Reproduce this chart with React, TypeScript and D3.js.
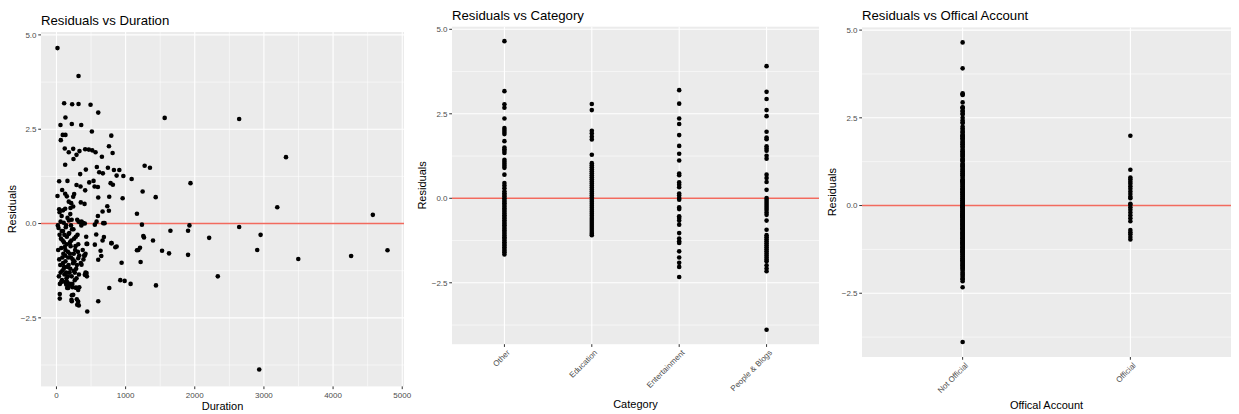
import React from 'react';
import * as d3 from 'd3';

// ---------- DATA ----------
// Panel 1: [duration, residual]
const durationResiduals: [number, number][] = [
  [15, 4.65], [319, 3.91], [111, 3.19], [227, 3.16], [319, 3.17], [493, 3.15], [604, 2.94],
  [130, 2.81], [1565, 2.8], [2642, 2.77], [58, 2.61], [222, 2.64], [358, 2.61], [512, 2.44],
  [91, 2.35], [130, 2.35], [63, 2.21], [793, 2.33], [759, 2.05], [120, 1.99], [242, 1.98],
  [178, 1.89], [290, 1.82], [246, 1.71], [333, 1.92], [415, 1.97], [468, 1.96], [517, 1.94],
  [565, 1.89], [812, 1.87], [657, 1.77], [3319, 1.76], [126, 1.56], [1275, 1.53], [1352, 1.48],
  [584, 1.5], [744, 1.48], [425, 1.43], [618, 1.36], [671, 1.33], [831, 1.42], [909, 1.42],
  [870, 1.27], [967, 1.26], [343, 1.31], [39, 1.12], [159, 1.13], [1087, 1.18], [536, 1.13],
  [474, 1.09], [783, 1.07], [816, 1.03], [1938, 1.07], [290, 1.02], [348, 0.98], [551, 0.98],
  [599, 0.97], [82, 0.89], [415, 0.88], [1246, 0.85], [126, 0.79], [256, 0.78], [150, 0.72],
  [15, 0.73], [1435, 0.7], [604, 0.69], [763, 0.71], [957, 0.67], [242, 0.71], [3193, 0.43],
  [178, 0.58], [213, 0.54], [352, 0.56], [406, 0.52], [735, 0.46], [1164, 0.26], [4575, 0.23],
  [667, 0.32], [758, 0.34], [599, 0.2], [39, 0.38], [126, 0.39], [203, 0.41], [242, 0.45],
  [696, 0.01], [1236, -0.03], [1923, -0.05], [2642, -0.09], [1903, -0.19], [1648, -0.19],
  [2952, -0.3], [1256, -0.33], [1266, -0.37], [2208, -0.38], [1396, -0.45], [793, -0.52],
  [851, -0.63], [445, -0.54], [555, -0.56], [1208, -0.64], [1164, -0.71], [1527, -0.72],
  [2903, -0.7], [4787, -0.71], [1628, -0.79], [1903, -0.83], [4261, -0.86], [3497, -0.94],
  [942, -1.04], [1217, -1.02], [604, -0.96], [648, -0.86], [638, -0.72], [667, -0.45],
  [686, -0.36], [575, -0.29], [923, -1.5], [986, -1.52], [1072, -1.6], [1439, -1.64],
  [764, -1.71], [2333, -1.4], [604, -2.06], [445, -2.33], [2932, -3.87], [323, -2.17],
  [294, -2.01], [222, -2.06], [222, -1.9], [48, -1.99], [48, -1.87], [310, -1.71], [330, -1.69],
  [232, -1.69], [155, -1.71], [140, -1.6], [190, -1.6], [580, 0.05], [555, -0.03], [676, 0.01],
  [362, 0.05], [387, 0.01], [435, -0.54], [797, -0.52], [870, -0.61], [1184, -0.7],
  [435, -1.31], [410, -1.36], [352, -1.05], [362, -1.09], [410, -0.85], [420, -0.8], [314, -0.92],
  [290, -1.71], [314, -1.76], [242, -1.89], [217, -2.02], [314, -2.07], [300, -2.15],
  [145, -1.62], [170, -1.71],
  [30, -0.12], [45, -0.3], [60, 0.05], [75, -0.2], [90, -0.45], [105, 0.02], [120, -0.62],
  [135, -0.1], [150, -0.35], [165, -0.75], [180, 0.08], [195, -0.5], [210, -0.9], [225, -0.15],
  [240, -1.05], [255, -0.4], [270, -0.7], [285, -1.2], [300, 0.1], [315, -0.55], [330, -0.85],
  [345, 0.03], [40, -0.95], [55, -1.1], [70, -0.65], [85, -1.25], [100, -0.8], [115, -1.35],
  [130, -1.0], [145, -1.45], [160, -1.15], [175, -0.28], [190, -1.3], [205, -0.6], [220, -1.4],
  [235, -0.95], [250, -1.25], [265, -1.5], [280, -0.35], [295, -1.1], [310, -0.75], [325, -1.35],
  [35, -1.4], [50, -1.6], [65, -0.4], [80, -1.5], [95, -0.2], [110, -1.15], [125, -0.85],
  [140, -0.05], [155, -1.55], [170, -0.9], [185, -0.25], [200, -1.2], [215, -0.45], [230, -1.6],
  [245, -0.15], [260, -1.0], [275, -0.6], [290, -1.45], [305, -0.3], [320, 0.05], [20, -0.05],
  [25, -0.7], [45, 0.3], [75, 0.2], [95, 0.35], [110, -0.5], [125, -1.55], [140, -1.3],
  [160, 0.15], [180, -1.65], [200, 0.25], [220, 0.1], [250, -0.8], [280, -1.7], [360, -0.05],
  [380, -0.7], [400, -0.85], [420, -1.3], [440, -1.4], [390, -0.95], [375, 0.02], [410, 0.0],
  [430, -0.35], [85, -0.9], [105, -1.2], [150, -0.55], [195, -0.8], [60, -1.3], [70, -1.55],
  [115, -0.3], [165, -1.4], [210, -0.05], [265, -1.3], [95, -1.05], [130, -0.7], [175, -1.1]
];
const durationTicks = [0, 1000, 2000, 3000, 4000, 5000];
const durationMinor = [500, 1500, 2500, 3500, 4500];

// Panel 2: residuals per category
const categories = ['Other', 'Education', 'Entertainment', 'People & Blogs'];
const otherResiduals = [
  4.65, 3.17, 2.78, 2.68, 2.36, 2.08, 2.02, 1.96, 1.9, 1.69, 1.5, 1.45, 1.4, 1.34, 1.14, 1.08,
  1.02, 0.96, 0.9, 0.7, 0.45, 0.38, 0.3, 0.21, 0.15, 0.1, 0.05, 0.0, -0.05, -0.1, -0.15, -0.2,
  -0.25, -0.3, -0.35, -0.4, -0.45, -0.5, -0.55, -0.6, -0.65, -0.7, -0.75, -0.8, -0.85, -0.9,
  -0.95, -1.0, -1.05, -1.1, -1.15, -1.2, -1.25, -1.3, -1.35, -1.4, -1.45, -1.5, -1.55, -1.6, -1.66
];
const educationResiduals = [
  2.79, 2.61, 2.0, 1.92, 1.82, 1.74, 1.29, 1.04, 0.98, 0.92, 0.86, 0.8, 0.74, 0.68, 0.62, 0.56,
  0.5, 0.44, 0.38, 0.32, 0.26, 0.2, 0.14, 0.08, 0.02, -0.04, -0.1, -0.16, -0.22, -0.28, -0.34,
  -0.4, -0.46, -0.52, -0.58, -0.64, -0.7, -0.76, -0.82, -0.88, -0.94, -1.0, -1.05, -1.09
];
const entertainmentResiduals = [
  3.2, 2.8, 2.36, 2.2, 1.87, 1.55, 1.32, 1.12, 0.73, 0.68, 0.47, 0.4, 0.33, 0.14, 0.08, 0.01,
  -0.04, -0.27, -0.32, -0.53, -0.58, -0.66, -0.78, -1.03, -1.19, -1.27, -1.32, -1.57, -1.75,
  -1.91, -2.03, -2.33
];
const peopleBlogsResiduals = [
  3.91, 3.15, 2.94, 2.61, 2.43, 1.97, 1.8, 1.75, 1.54, 1.47, 1.41, 1.26, 1.17, 0.7, 0.6, 0.48,
  0.25, 0.01, -0.05, -0.11, -0.17, -0.23, -0.29, -0.35, -0.42, -0.49, -0.66, -0.93, -1.09,
  -1.15, -1.21, -1.27, -1.33, -1.39, -1.45, -1.51, -1.57, -1.63, -1.69, -1.75, -1.81, -1.86,
  -1.98, -2.08, -2.16, -3.89
];

// Panel 3: residuals by official account
const officialLevels = ['Not Official', 'Official'];
const officialResiduals = [
  1.99, 1.02, 0.8, 0.75, 0.68, 0.62, 0.55, 0.48, 0.4, 0.33, 0.25, 0.21, 0.05, 0.02, -0.05,
  -0.12, -0.2, -0.28, -0.36, -0.45, -0.7, -0.76, -0.82, -0.9, -0.97
];
const notOfficialResiduals = [
  ...otherResiduals, ...educationResiduals, ...entertainmentResiduals, ...peopleBlogsResiduals,
  2.5, 2.7, 2.25, 2.15, 2.1, 1.6, 1.65, 1.2, 0.85, 0.55, 0.65, -1.7, -1.8, -1.95, -2.1
];

const residualTicks = [-2.5, 0, 2.5, 5];
const residualMinor = [-3.75, -1.25, 1.25, 3.75];

// ---------- STYLE ----------
const FONT = '"Liberation Sans", Arial, Helvetica, sans-serif';
const PANEL_BG = '#EBEBEB';
const TICK_TEXT = '#4D4D4D';
const TICK_LINE = '#333333';
const HLINE = '#F26A5E';
const R = 2.3;

const allRes = [
  ...durationResiduals.map((d) => d[1]),
  ...otherResiduals, ...educationResiduals, ...entertainmentResiduals, ...peopleBlogsResiduals,
  ...officialResiduals,
];
const yExt = d3.extent(allRes) as [number, number];
const yPad = (yExt[1] - yExt[0]) * 0.05;
const yDomain: [number, number] = [yExt[0] - yPad, yExt[1] + yPad];

const fmt = d3.format('.1f');

type Box = { left: number; right: number; top: number; bottom: number };

function YAxisAndGrid({ box, y }: { box: Box; y: d3.ScaleLinear<number, number> }) {
  return (
    <g>
      {residualMinor.map((t) => (
        <line key={'ym' + t} x1={box.left} x2={box.right} y1={y(t)} y2={y(t)} stroke="#fff" strokeWidth={0.55} />
      ))}
      {residualTicks.map((t) => (
        <line key={'yM' + t} x1={box.left} x2={box.right} y1={y(t)} y2={y(t)} stroke="#fff" strokeWidth={1.1} />
      ))}
    </g>
  );
}

function YTicks({ box, y }: { box: Box; y: d3.ScaleLinear<number, number> }) {
  return (
    <g>
      {residualTicks.map((t) => (
        <g key={'yt' + t}>
          <line x1={box.left - 2.75} x2={box.left} y1={y(t)} y2={y(t)} stroke={TICK_LINE} strokeWidth={1} />
          <text x={box.left - 4.5} y={y(t)} dy="0.35em" textAnchor="end" fontSize={8} fill={TICK_TEXT} fontFamily={FONT}>
            {fmt(t)}
          </text>
        </g>
      ))}
    </g>
  );
}

function ZeroLine({ box, y }: { box: Box; y: d3.ScaleLinear<number, number> }) {
  return <line x1={box.left} x2={box.right} y1={y(0)} y2={y(0)} stroke={HLINE} strokeWidth={1.4} />;
}

function Titles({ box, title, titleY, xLabel, xLabelY, yLabelX }: {
  box: Box; title: string; titleY: number; xLabel: string; xLabelY: number; yLabelX: number;
}) {
  const cy = (box.top + box.bottom) / 2;
  return (
    <g fontFamily={FONT}>
      <text x={box.left} y={titleY} fontSize={13.2} fill="#000">{title}</text>
      <text x={(box.left + box.right) / 2} y={xLabelY} fontSize={11} textAnchor="middle" fill="#000">{xLabel}</text>
      <text transform={`translate(${yLabelX},${cy}) rotate(-90)`} dy="0.35em" fontSize={11} textAnchor="middle" fill="#000">Residuals</text>
    </g>
  );
}

function DurationPanel() {
  const box: Box = { left: 41, right: 404, top: 32, bottom: 386.4 };
  const xe = d3.extent(durationResiduals, (d) => d[0]) as [number, number];
  const xp = (xe[1] - xe[0]) * 0.05;
  const x = d3.scaleLinear().domain([xe[0] - xp, xe[1] + xp]).range([box.left, box.right]);
  const y = d3.scaleLinear().domain(yDomain).range([box.bottom, box.top]);
  return (
    <g>
      <rect x={box.left} y={box.top} width={box.right - box.left} height={box.bottom - box.top} fill={PANEL_BG} />
      {durationMinor.map((t) => (
        <line key={'xm' + t} x1={x(t)} x2={x(t)} y1={box.top} y2={box.bottom} stroke="#fff" strokeWidth={0.55} />
      ))}
      <YAxisAndGrid box={box} y={y} />
      {durationTicks.map((t) => (
        <line key={'xM' + t} x1={x(t)} x2={x(t)} y1={box.top} y2={box.bottom} stroke="#fff" strokeWidth={1.1} />
      ))}
      <ZeroLine box={box} y={y} />
      {durationResiduals.map((d, i) => (
        <circle key={i} cx={x(d[0])} cy={y(d[1])} r={R} fill="#000" />
      ))}
      <YTicks box={box} y={y} />
      {durationTicks.map((t) => (
        <g key={'xt' + t}>
          <line x1={x(t)} x2={x(t)} y1={box.bottom} y2={box.bottom + 2.75} stroke={TICK_LINE} strokeWidth={1} />
          <text x={x(t)} y={box.bottom + 11.5} textAnchor="middle" fontSize={8} fill={TICK_TEXT} fontFamily={FONT}>{t}</text>
        </g>
      ))}
      <Titles box={box} title="Residuals vs Duration" titleY={24.5} xLabel="Duration" xLabelY={410} yLabelX={12} />
    </g>
  );
}

function CategoricalPanel({ box, levels, groups, title, titleY, xLabel, xLabelY, yLabelX }: {
  box: Box; levels: string[]; groups: number[][]; title: string; titleY: number; xLabel: string; xLabelY: number; yLabelX: number;
}) {
  const n = levels.length;
  const xi = d3.scaleLinear().domain([1 - 0.6, n + 0.6]).range([box.left, box.right]);
  const x = (lvl: string) => xi(levels.indexOf(lvl) + 1);
  const y = d3.scaleLinear().domain(yDomain).range([box.bottom, box.top]);
  return (
    <g>
      <rect x={box.left} y={box.top} width={box.right - box.left} height={box.bottom - box.top} fill={PANEL_BG} />
      <YAxisAndGrid box={box} y={y} />
      {levels.map((l) => (
        <line key={'xg' + l} x1={x(l)} x2={x(l)} y1={box.top} y2={box.bottom} stroke="#fff" strokeWidth={1.1} />
      ))}
      <ZeroLine box={box} y={y} />
      {levels.map((l, gi) =>
        groups[gi].map((v, i) => <circle key={l + i} cx={x(l)} cy={y(v)} r={R} fill="#000" />)
      )}
      <YTicks box={box} y={y} />
      {levels.map((l) => (
        <g key={'xt' + l}>
          <line x1={x(l)} x2={x(l)} y1={box.bottom} y2={box.bottom + 2.75} stroke={TICK_LINE} strokeWidth={1} />
          <text
            transform={`translate(${x(l) + 2},${box.bottom + 5}) rotate(-45)`}
            dy="0.7em"
            textAnchor="end"
            fontSize={8}
            fill={TICK_TEXT}
            fontFamily={FONT}
          >
            {l}
          </text>
        </g>
      ))}
      <Titles box={box} title={title} titleY={titleY} xLabel={xLabel} xLabelY={xLabelY} yLabelX={yLabelX} />
    </g>
  );
}

export default function App() {
  return (
    <svg
      width={1239}
      height={414}
      style={{ position: 'absolute', left: 0, top: 0, background: '#fff' }}
      xmlns="http://www.w3.org/2000/svg"
    >
      <rect width={1239} height={414} fill="#fff" />
      <DurationPanel />
      <CategoricalPanel
        box={{ left: 452, right: 819, top: 26.7, bottom: 344.2 }}
        levels={categories}
        groups={[otherResiduals, educationResiduals, entertainmentResiduals, peopleBlogsResiduals]}
        title="Residuals vs Category"
        titleY={19.5}
        xLabel="Category"
        xLabelY={408}
        yLabelX={422}
      />
      <CategoricalPanel
        box={{ left: 862, right: 1231, top: 27.4, bottom: 357 }}
        levels={officialLevels}
        groups={[notOfficialResiduals, officialResiduals]}
        title="Residuals vs Offical Account"
        titleY={19.5}
        xLabel="Offical Account"
        xLabelY={409}
        yLabelX={832}
      />
    </svg>
  );
}
